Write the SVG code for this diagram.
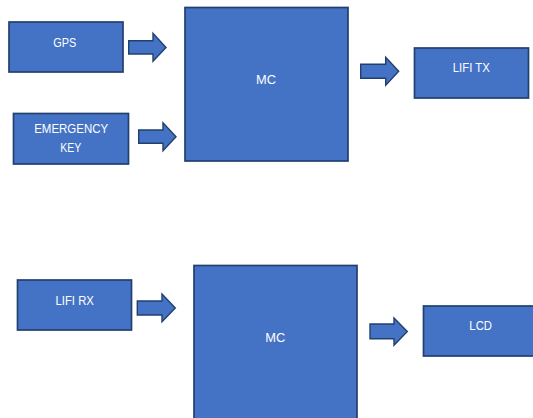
<svg xmlns="http://www.w3.org/2000/svg" width="533" height="418" viewBox="0 0 533 418">
<style>
.box{fill:#4472C4;stroke:#22406F;stroke-width:1.7}
.arr{fill:#4472C4;stroke:#22406F;stroke-width:1.4;stroke-linejoin:miter}
.t{font-family:"Liberation Sans",Arial,sans-serif;font-size:13px;fill:#ffffff;text-anchor:middle}
</style>
<rect width="533" height="418" fill="#ffffff"/>
<g id="gps"><rect class="box" x="9" y="22" width="114" height="50"/><text class="t" x="64.7" y="47" textLength="23" lengthAdjust="spacingAndGlyphs">GPS</text></g>
<g id="emergency"><rect class="box" x="13.5" y="113.5" width="115" height="50.5"/><text class="t" x="71.2" y="133" textLength="74" lengthAdjust="spacingAndGlyphs">EMERGENCY</text><text class="t" x="70.8" y="152" textLength="21" lengthAdjust="spacingAndGlyphs">KEY</text></g>
<g id="mc1"><rect class="box" x="185" y="7.5" width="163" height="153.5"/><text class="t" x="266" y="83.7" textLength="20" lengthAdjust="spacingAndGlyphs">MC</text></g>
<g id="lifitx"><rect class="box" x="414.5" y="48" width="114" height="50"/><text class="t" x="471.3" y="72.4" textLength="37" lengthAdjust="spacingAndGlyphs">LIFI TX</text></g>
<g id="lifirx"><rect class="box" x="17.5" y="280" width="114" height="50"/><text class="t" x="74.7" y="304.7" textLength="38.5" lengthAdjust="spacingAndGlyphs">LIFI RX</text></g>
<g id="mc2"><rect class="box" x="194" y="265.5" width="163" height="160"/><text class="t" x="275.2" y="342" textLength="20" lengthAdjust="spacingAndGlyphs">MC</text></g>
<g id="lcd"><rect class="box" x="423.5" y="306" width="120" height="50"/><text class="t" x="480.7" y="330.4" textLength="22.7" lengthAdjust="spacingAndGlyphs">LCD</text></g>
<g id="connectors">
<path class="arr" d="M128.7,40.7 H153 V33.3 L166,47.5 L153,61.3 V54 H128.7 Z"/>
<path class="arr" d="M138.7,130 H163 V122.7 L176,136.7 L163,150.7 V143.3 H138.7 Z"/>
<path class="arr" d="M360.7,64.3 H385.7 V57.3 L398.7,71.3 L385.7,85.3 V78.3 H360.7 Z"/>
<path class="arr" d="M137.3,301 H162 V294 L175.3,307.9 L162,321.7 V315 H137.3 Z"/>
<path class="arr" d="M370,324 H394 V318 L407.3,331.6 L394,345.3 V338.7 H370 Z"/>
</g>
</svg>
